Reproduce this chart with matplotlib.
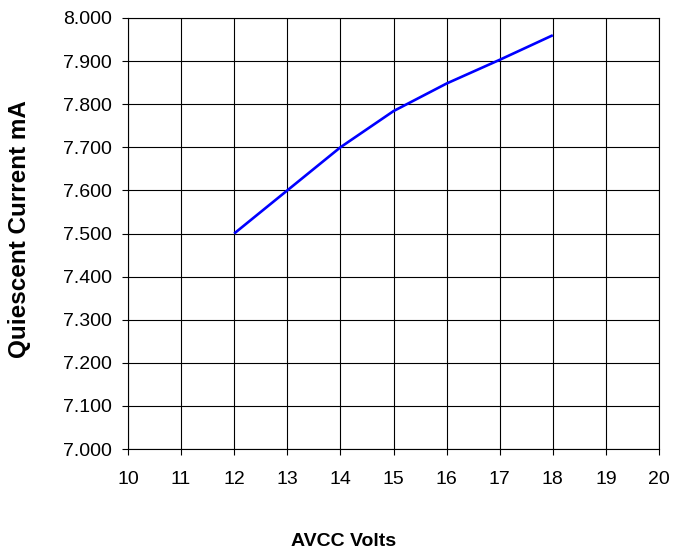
import matplotlib
matplotlib.use("Agg")
import matplotlib.pyplot as plt

volts = [12, 13, 14, 15, 16, 17, 18]
current = [7.500, 7.600, 7.700, 7.784, 7.848, 7.903, 7.960]
xticks = list(range(10, 21))
yticks = [7.0 + 0.1 * i for i in range(11)]

plt.rcParams['font.family'] = ['Liberation Sans', 'DejaVu Sans']
fig = plt.figure(figsize=(6.73, 5.5), dpi=100)
W, H = 673, 550
x0, x1, y0, y1 = 128, 659, 18, 449
ax = fig.add_axes([x0 / W, 1 - y1 / H, (x1 - x0) / W, (y1 - y0) / H])
ax.plot(volts, current, color='#0000FF', lw=1.9, solid_capstyle='butt')
ax.set_xlim(10, 20)
ax.set_ylim(7.0, 8.0)
ax.set_xticks(xticks)
ax.set_yticks(yticks)
ax.set_yticklabels([f"{v:.3f}" for v in yticks])
ax.grid(True, color='black', lw=0.8)
for s in ax.spines.values():
    s.set_color('black')
    s.set_linewidth(0.8)
ax.tick_params(labelsize=14, direction='out', length=4.5, width=0.8)
ax.tick_params(axis='y', pad=7)
ax.tick_params(axis='x', pad=11)
fig.text(344 / W, 1 - 542 / H, 'AVCC Volts', ha='center', va='center',
         fontsize=14, fontweight='bold')
fig.text(20 / W, 1 - 229 / H, 'Quiescent Current mA', ha='center', va='center',
         rotation=90, fontsize=17.5, fontweight='bold')
fig.savefig('out.png', dpi=100)
